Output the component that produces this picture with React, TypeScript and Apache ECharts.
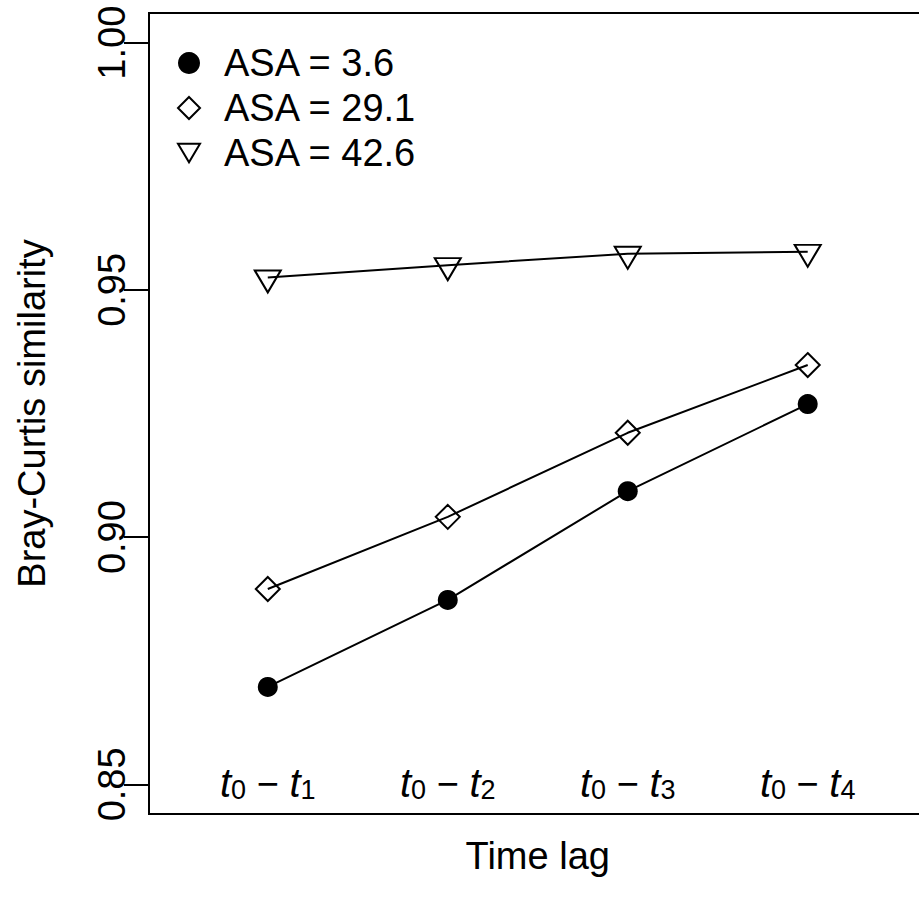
import React, { useEffect, useRef } from 'react';
import * as echarts from 'echarts';

// ---- data ----
const lagPositions = [1, 2, 3, 4];
const lagFrom = ['0', '0', '0', '0'];
const lagTo = ['1', '2', '3', '4'];
const seriesNames = ['ASA = 3.6', 'ASA = 29.1', 'ASA = 42.6'];
const asa36 = [0.8697, 0.8873, 0.9093, 0.9269];
const asa291 = [0.8895, 0.9041, 0.9211, 0.9348];
const asa426 = [0.9525, 0.955, 0.9573, 0.9577];
const yTicks = [0.85, 0.9, 0.95, 1.0];
const yTitle = 'Bray-Curtis similarity';
const xTitle = 'Time lag';

const FONT = '"Liberation Sans", Arial, Helvetica, sans-serif';
const TRI = 'path://M0,0L26,0L13,22Z';

export default function App() {
  const ref = useRef<HTMLDivElement>(null);
  useEffect(() => {
    if (!ref.current) return;
    const chart = echarts.init(ref.current, undefined, { renderer: 'svg' });
    const hollow = { color: 'rgba(0,0,0,0)', borderColor: '#000', borderWidth: 2 };
    const option: any = {
      animation: false,
      backgroundColor: '#fff',
      textStyle: { fontFamily: FONT },
      grid: {
        left: 149,
        right: 3.5,
        top: 13,
        bottom: 86,
        show: true,
        borderColor: '#000',
        borderWidth: 2,
        backgroundColor: 'rgba(0,0,0,0)',
      },
      legend: {
        orient: 'vertical',
        left: 172,
        top: 38,
        itemWidth: 22,
        itemHeight: 22,
        itemGap: 5,
        selectedMode: false,
        textStyle: { fontSize: 38, lineHeight: 40, color: '#000', fontFamily: FONT, padding: [0, 0, 0, 19] },
        data: [
          { name: seriesNames[0], icon: 'circle', itemStyle: { color: '#000', borderWidth: 0 } },
          { name: seriesNames[1], icon: 'diamond', itemStyle: hollow },
          { name: seriesNames[2], icon: TRI, itemStyle: hollow },
        ],
      },
      xAxis: {
        type: 'value',
        min: 0.34,
        max: 4.66,
        axisLine: { show: false },
        axisTick: { show: false },
        splitLine: { show: false },
        name: xTitle,
        nameLocation: 'middle',
        nameGap: 22,
        nameTextStyle: { fontSize: 38, lineHeight: 40, color: '#000', fontFamily: FONT },
        axisLabel: {
          customValues: lagPositions,
          inside: true,
          margin: 11,
          formatter: (v: number) => {
            const i = lagPositions.indexOf(v);
            return `{t|t}{s|${lagFrom[i]}}{m| − }{t|t}{s|${lagTo[i]}}`;
          },
          rich: {
            t: { fontSize: 40, fontStyle: 'italic', fontFamily: FONT, lineHeight: 42, verticalAlign: 'bottom', color: '#000' },
            s: { fontSize: 27, fontFamily: FONT, lineHeight: 30, verticalAlign: 'bottom', color: '#000' },
            m: { fontSize: 38, fontFamily: FONT, lineHeight: 42, verticalAlign: 'bottom', color: '#000' },
          },
        },
      },
      yAxis: {
        type: 'value',
        min: 0.844,
        max: 1.006,
        axisLine: { show: false },
        splitLine: { show: false },
        axisTick: { show: true, customValues: yTicks, length: 25, lineStyle: { color: '#000', width: 2 } },
        axisLabel: {
          customValues: yTicks,
          rotate: 90,
          margin: 17,
          fontSize: 38,
          lineHeight: 40,
          color: '#000',
          fontFamily: FONT,
          formatter: (v: number) => v.toFixed(2),
        },
        name: yTitle,
        nameLocation: 'middle',
        nameGap: 97,
        nameTextStyle: { fontSize: 38, lineHeight: 40, color: '#000', fontFamily: FONT },
      },
      series: [
        {
          type: 'line',
          name: seriesNames[0],
          data: lagPositions.map((x, i) => [x, asa36[i]]),
          symbol: 'circle',
          symbolSize: 20,
          itemStyle: { color: '#000' },
          lineStyle: { color: '#000', width: 2 },
          emphasis: { disabled: true },
        },
        {
          type: 'line',
          name: seriesNames[1],
          data: lagPositions.map((x, i) => [x, asa291[i]]),
          symbol: 'diamond',
          symbolSize: 24,
          itemStyle: hollow,
          lineStyle: { color: '#000', width: 2 },
          emphasis: { disabled: true },
        },
        {
          type: 'line',
          name: seriesNames[2],
          data: lagPositions.map((x, i) => [x, asa426[i]]),
          symbol: TRI,
          symbolSize: [26, 22],
          symbolOffset: [0, 4],
          itemStyle: hollow,
          lineStyle: { color: '#000', width: 2 },
          emphasis: { disabled: true },
        },
      ],
    };
    chart.setOption(option);
    return () => chart.dispose();
  }, []);
  return (
    <div style={{ position: 'absolute', left: 0, top: 0, width: 919, height: 900, overflow: 'hidden' }}>
      <div ref={ref} style={{ width: 930, height: 900 }} />
    </div>
  );
}
